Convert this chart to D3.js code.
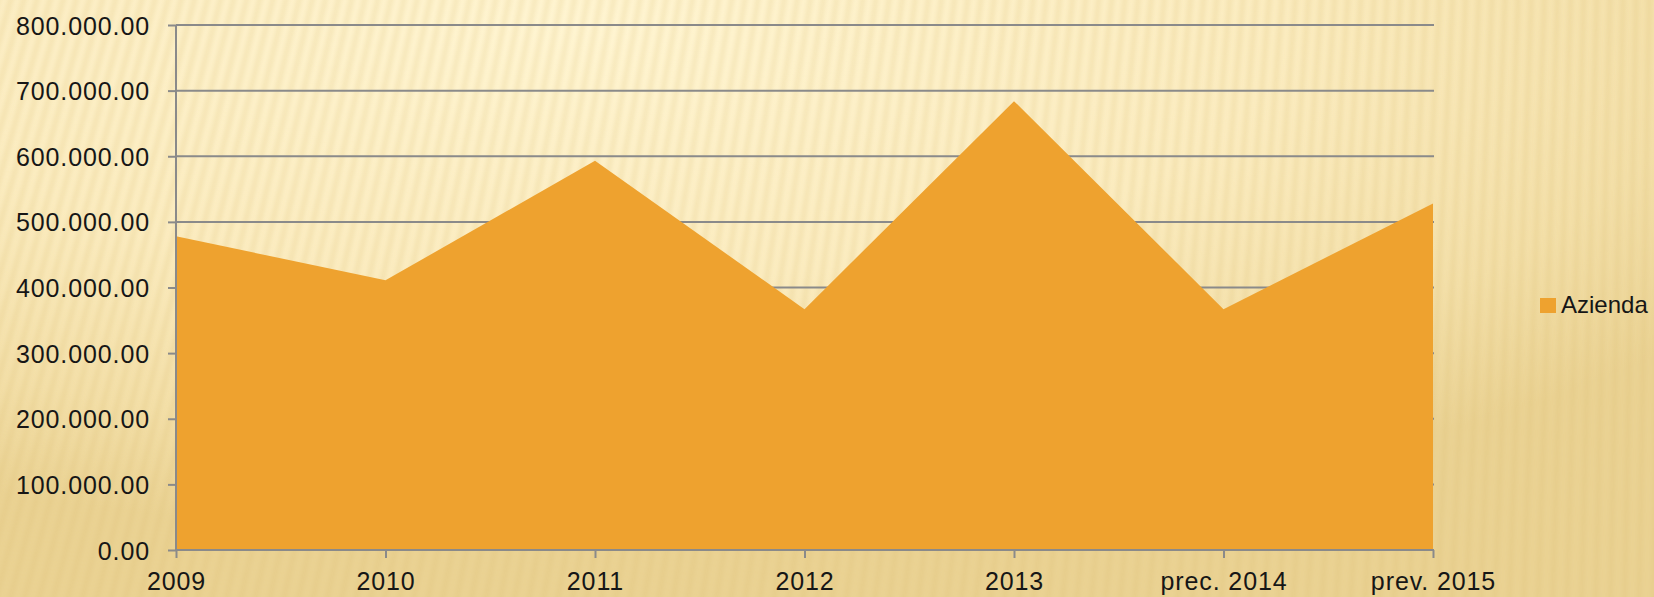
<!DOCTYPE html>
<html>
<head>
<meta charset="utf-8">
<script src="https://cdn.jsdelivr.net/npm/d3@7"></script>
<style>
  html, body { margin: 0; padding: 0; background: #f6e4b0; }
  svg { display: block; }
  text { font-family: "Liberation Sans", Arial, sans-serif; fill: #161616; }
</style>
</head>
<body>
<div id="chart"></div>
<script>
var categories = ["2009", "2010", "2011", "2012", "2013", "prec. 2014", "prev. 2015"];
var values = [478000, 411000, 593000, 367000, 684000, 367000, 528000];
var yTicks = [0, 100000, 200000, 300000, 400000, 500000, 600000, 700000, 800000];
var seriesName = "Azienda";

var width = 1654, height = 597;
var margin = {top: 25, right: 221, bottom: 47, left: 176};

var svg = d3.select("#chart")
            .append("svg")
            .attr("width", width)
            .attr("height", height);

var defs = svg.append("defs");

// background: warm radial gradient, lightest near the top left
var bg = defs.append("radialGradient")
             .attr("id", "bg")
             .attr("cx", "35%").attr("cy", "5%").attr("r", "85%");
bg.append("stop").attr("offset", "0%").attr("stop-color", "#fff5d2");
bg.append("stop").attr("offset", "50%").attr("stop-color", "#fbecc0");
bg.append("stop").attr("offset", "80%").attr("stop-color", "#f3dfa8");
bg.append("stop").attr("offset", "100%").attr("stop-color", "#ead293");

defs.append("filter").attr("id", "soft")
    .append("feGaussianBlur").attr("stdDeviation", 2.2);

svg.append("rect")
   .attr("width", width)
   .attr("height", height)
   .attr("fill", "url(#bg)");

// background stripes fanning out from a point high above the right side
var focus = {x: 1750, y: -6000};
var stripes = svg.append("g").attr("filter", "url(#soft)");
d3.range(-40, 140).forEach(function(i) {
  var xb = i * 14.5;
  var t = (height + 40 - focus.y);
  var xTop = focus.x + (xb - focus.x) * ((-40 - focus.y) / t);
  stripes.append("line")
         .attr("x1", xTop).attr("y1", -40)
         .attr("x2", xb).attr("y2", height + 40)
         .attr("stroke", "#d9ba6e")
         .attr("stroke-opacity", 0.22)
         .attr("stroke-width", 5);
});

var x = d3.scalePoint()
          .domain(categories)
          .range([margin.left, width - margin.right]);

var y = d3.scaleLinear()
          .domain([0, 800000])
          .range([height - margin.bottom, margin.top]);

var fmt = function(v) {
  return d3.format(",.2f")(v).replace(/,/g, ".");
};

// gridlines
svg.append("g")
   .selectAll("line")
   .data(yTicks.filter(function(d) { return d > 0; }))
   .enter().append("line")
   .attr("x1", margin.left)
   .attr("x2", width - margin.right + 1)
   .attr("y1", function(d) { return y(d); })
   .attr("y2", function(d) { return y(d); })
   .attr("stroke", "#8a8a8a")
   .attr("stroke-width", 2);

// area
var area = d3.area()
             .x(function(d, i) { return x(categories[i]); })
             .y0(y(0))
             .y1(function(d) { return y(d); });

svg.append("path")
   .datum(values)
   .attr("d", area)
   .attr("fill", "#eea22f");

// y axis
var yAxis = d3.axisLeft(y)
              .tickValues(yTicks)
              .tickSize(8)
              .tickPadding(18)
              .tickFormat(fmt);

var gy = svg.append("g")
            .attr("transform", "translate(" + margin.left + ",0)")
            .call(yAxis);
gy.selectAll("path, line").attr("stroke", "#8a8a8a").attr("stroke-width", 2);
gy.select(".domain").attr("d", "M0," + y(800000) + "V" + y(0));
gy.selectAll("text")
  .attr("font-size", 25)
  .attr("letter-spacing", 0.9)
  .attr("dy", "0.36em")
  .style("font-family", "Liberation Sans, Arial, sans-serif")
  .style("fill", "#161616");

// x axis
var xAxis = d3.axisBottom(x)
              .tickSize(8)
              .tickPadding(14);

var gx = svg.append("g")
            .attr("transform", "translate(0," + y(0) + ")")
            .call(xAxis);
gx.selectAll("path, line").attr("stroke", "#8a8a8a").attr("stroke-width", 2);
gx.select(".domain").attr("d", "M" + margin.left + ",0H" + (width - margin.right + 1));
gx.selectAll("text")
  .attr("font-size", 25)
  .attr("letter-spacing", 0.9)
  .attr("dy", "0.71em")
  .style("font-family", "Liberation Sans, Arial, sans-serif")
  .style("fill", "#161616");

// legend
var legend = svg.append("g")
                .attr("transform", "translate(1540,298)");
legend.append("rect")
      .attr("width", 16)
      .attr("height", 15)
      .attr("fill", "#eea22f");
legend.append("text")
      .attr("x", 21)
      .attr("y", 15)
      .attr("font-size", 24)
      .text(seriesName);
</script>
</body>
</html>
